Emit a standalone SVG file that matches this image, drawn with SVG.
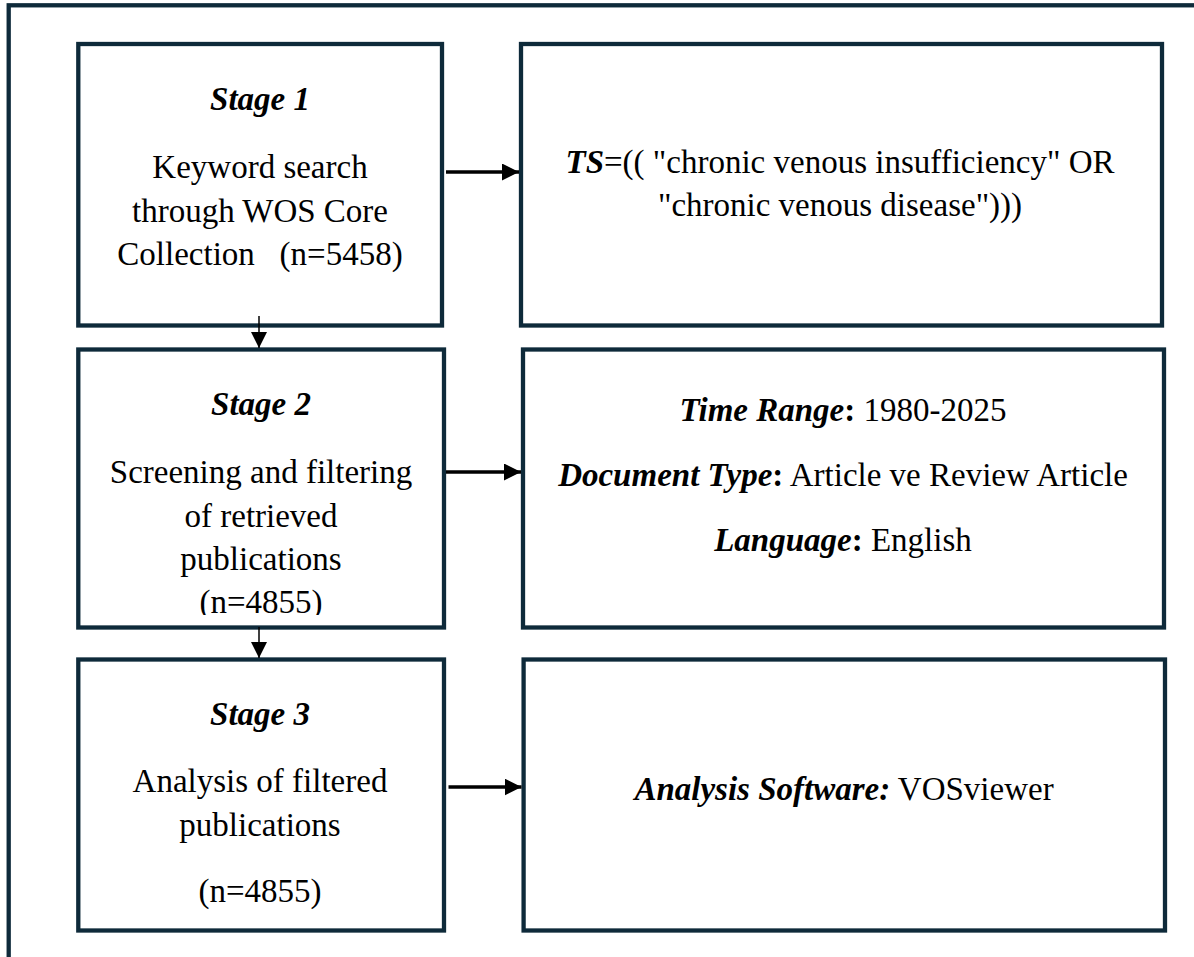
<svg xmlns="http://www.w3.org/2000/svg" width="1194" height="957" viewBox="0 0 1194 957">
<style>
.box{fill:#fff;stroke:#0e2a3a;stroke-width:4.3}
.t{font-family:"Liberation Serif","Times New Roman",serif;font-size:33px;fill:#000;text-anchor:middle}
.bi{font-weight:bold;font-style:italic}
.b{font-weight:bold}
.thick{stroke:#000;stroke-width:3.5;fill:none}
.thin{stroke:#000;stroke-width:1.5;fill:none}
</style>
<defs>
<marker id="ah" markerUnits="userSpaceOnUse" markerWidth="17" markerHeight="17" refX="17" refY="8.5" orient="auto"><path d="M0,0 L17,8.5 L0,17 z" fill="#000"/></marker>
<marker id="av" markerUnits="userSpaceOnUse" markerWidth="16" markerHeight="16" refX="16" refY="8" orient="auto"><path d="M0,0 L16,8 L0,16 z" fill="#000"/></marker>
<clipPath id="c2"><rect x="80" y="352" width="362" height="263"/></clipPath>
</defs>
<rect width="1194" height="957" fill="#fff"/>
<rect x="8.7" y="5.3" width="1200" height="1000" fill="none" stroke="#0e2a3a" stroke-width="4.3"/>

<g id="stage1">
<rect class="box" x="78.3" y="44" width="363.7" height="281.5"/>
<text class="t bi" x="260" y="110">Stage 1</text>
<text class="t" x="260" y="178">Keyword search</text>
<text class="t" x="260" y="222">through WOS Core</text>
<text class="t" x="260" y="265" xml:space="preserve">Collection   (n=5458)</text>
</g>

<g id="query">
<rect class="box" x="521" y="44" width="641" height="281.5"/>
<text class="t" x="840" y="173"><tspan class="bi">TS</tspan>=(( "chronic venous insufficiency" OR</text>
<text class="t" x="840" y="216">"chronic venous disease")))</text>
</g>

<g id="stage2">
<rect class="box" x="78.3" y="349.5" width="365.7" height="278"/>
<text class="t bi" x="261" y="415">Stage 2</text>
<text class="t" x="261" y="483">Screening and filtering</text>
<text class="t" x="261" y="527">of retrieved</text>
<text class="t" x="261" y="570">publications</text>
<text class="t" x="261" y="613" clip-path="url(#c2)">(n=4855)</text>
</g>

<g id="filters">
<rect class="box" x="523" y="349.5" width="641" height="278"/>
<text class="t" x="843" y="421"><tspan class="bi">Time Range</tspan><tspan class="b">:</tspan> 1980-2025</text>
<text class="t" x="843" y="486"><tspan class="bi">Document Type</tspan><tspan class="b">:</tspan> Article ve Review Article</text>
<text class="t" x="843" y="551"><tspan class="bi">Language</tspan><tspan class="b">:</tspan> English</text>
</g>

<g id="stage3">
<rect class="box" x="78.3" y="659.5" width="365.7" height="271"/>
<text class="t bi" x="260" y="725">Stage 3</text>
<text class="t" x="260" y="792">Analysis of filtered</text>
<text class="t" x="260" y="836">publications</text>
<text class="t" x="260" y="902">(n=4855)</text>
</g>

<g id="software">
<rect class="box" x="523.6" y="659.5" width="641.4" height="271"/>
<text class="t" x="844" y="800"><tspan class="bi">Analysis Software:</tspan> VOSviewer</text>
</g>

<g id="connectors">
<line class="thick" x1="446" y1="172" x2="519" y2="172" marker-end="url(#ah)"/>
<line class="thick" x1="446" y1="472" x2="521" y2="472" marker-end="url(#ah)"/>
<line class="thick" x1="448.5" y1="787" x2="521.5" y2="787" marker-end="url(#ah)"/>
<line class="thin" x1="259" y1="316" x2="259" y2="348" marker-end="url(#av)"/>
<line class="thin" x1="259" y1="627" x2="259" y2="658" marker-end="url(#av)"/>
</g>
</svg>
